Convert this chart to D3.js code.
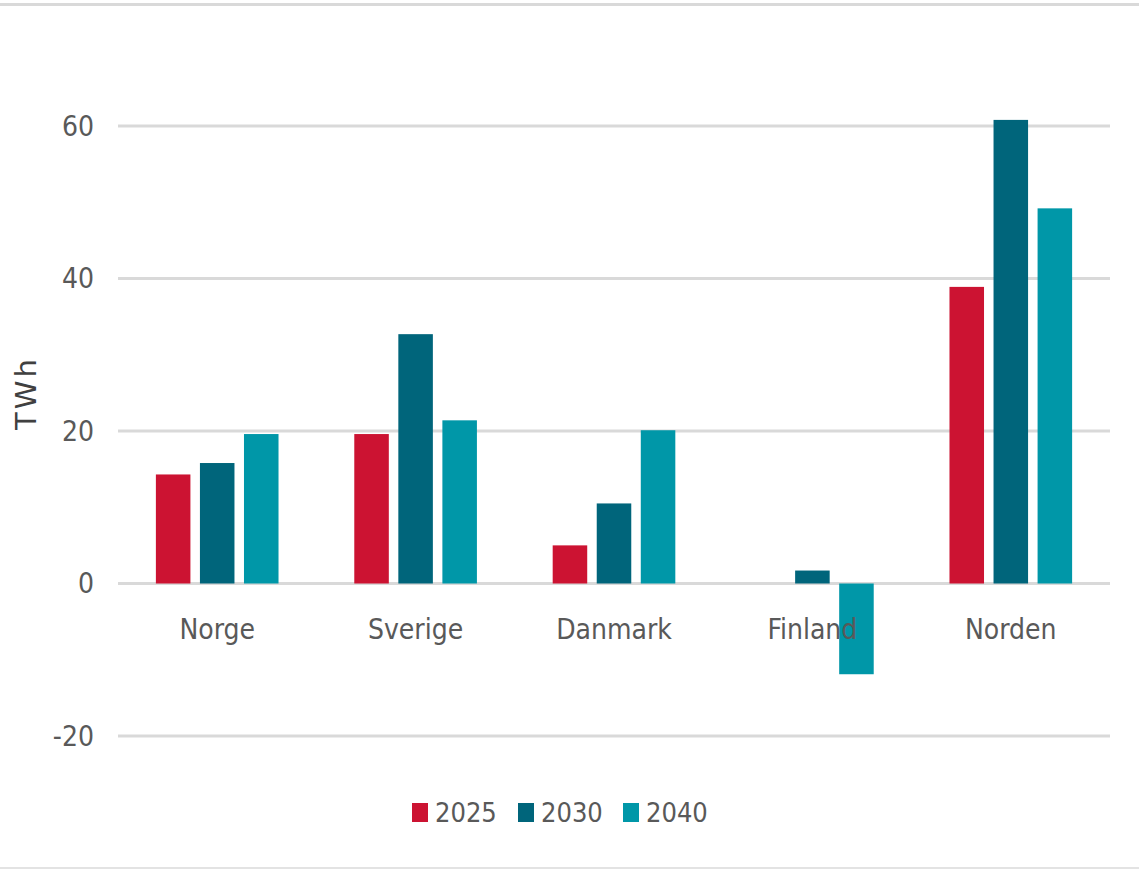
<!DOCTYPE html>
<html>
<head>
<meta charset="utf-8">
<script src="https://cdn.jsdelivr.net/npm/d3@7"></script>
<style>
  body { margin: 0; background: #fff; }
  svg text { font-family: "Liberation Sans Narrow", "DejaVu Sans Condensed", "Roboto", sans-serif; fill: #595959; }
</style>
</head>
<body>
<svg id="chart"></svg>
<script>
const categories = ['Norge', 'Sverige', 'Danmark', 'Finland', 'Norden'];
const years = ['2025', '2030', '2040'];
const v2025 = [14.3, 19.6, 5.0, 0, 38.9];
const v2030 = [15.8, 32.7, 10.5, 1.7, 60.8];
const v2040 = [19.6, 21.4, 20.1, -11.9, 49.2];
const yTicks = [-20, 0, 20, 40, 60];
const colors = ['#cc1332', '#00657b', '#0097a8'];

const width = 1139, height = 870;
const margin = {top: 126, right: 29, bottom: 134, left: 118};

const data = categories.map((c, i) => ({cat: c, vals: [v2025[i], v2030[i], v2040[i]]}));

const svg = d3.select('#chart')
  .attr('width', width)
  .attr('height', height);

// frame lines top and bottom
svg.append('rect').attr('x', 0).attr('y', 3).attr('width', width).attr('height', 3).attr('fill', '#d9d9d9');
svg.append('rect').attr('x', 0).attr('y', 867).attr('width', width).attr('height', 2).attr('fill', '#e3e3e3');

const x0 = d3.scaleBand()
  .domain(categories)
  .range([margin.left, width - margin.right]);

const x1 = d3.scaleBand()
  .domain(years)
  .range([0, x0.bandwidth()])
  .paddingInner(0.216)
  .paddingOuter(0.86);

const y = d3.scaleLinear()
  .domain([-20, 60])
  .range([736, 126]);

// gridlines
svg.append('g')
  .selectAll('line')
  .data(yTicks)
  .enter().append('line')
  .attr('x1', margin.left)
  .attr('x2', width - margin.right)
  .attr('y1', d => y(d))
  .attr('y2', d => y(d))
  .attr('stroke', '#d9d9d9')
  .attr('stroke-width', 3);

// y tick labels
svg.append('g')
  .selectAll('text')
  .data(yTicks)
  .enter().append('text')
  .attr('x', 94)
  .attr('y', d => y(d))
  .attr('dy', '0.35em')
  .attr('text-anchor', 'end')
  .style('font-size', '28px')
  .text(d => d);

// axis title
svg.append('text')
  .attr('transform', 'translate(36,393) rotate(-90)')
  .attr('text-anchor', 'middle')
  .style('font-family', '"DejaVu Sans", sans-serif')
  .style('font-size', '29px')
  .style('letter-spacing', '3px')
  .style('fill', '#404040')
  .text('TWh');

// bars
const groups = svg.append('g')
  .selectAll('g')
  .data(data)
  .enter().append('g')
  .attr('transform', d => `translate(${x0(d.cat)},0)`);

groups.selectAll('rect')
  .data(d => d.vals.map((v, i) => ({year: years[i], v: v, i: i})))
  .enter().append('rect')
  .filter(d => d.v !== 0)
  .attr('x', d => x1(d.year))
  .attr('width', x1.bandwidth())
  .attr('y', d => y(Math.max(0, d.v)))
  .attr('height', d => Math.abs(y(d.v) - y(0)))
  .attr('fill', d => colors[d.i]);

// category labels (on top of the bars)
svg.append('g')
  .selectAll('text')
  .data(categories)
  .enter().append('text')
  .attr('x', d => x0(d) + x0.bandwidth() / 2)
  .attr('y', 639)
  .attr('text-anchor', 'middle')
  .style('font-size', '28px')
  .text(d => d);

// legend
const legendX = [412, 518, 623];
const legend = svg.append('g')
  .selectAll('g')
  .data(years)
  .enter().append('g')
  .attr('transform', (d, i) => `translate(${legendX[i]},803)`);

legend.append('rect')
  .attr('width', 16)
  .attr('height', 19)
  .attr('fill', (d, i) => colors[i]);

legend.append('text')
  .attr('x', 23)
  .attr('y', 10)
  .attr('dy', '0.35em')
  .style('font-size', '27px')
  .text(d => d);
</script>
</body>
</html>
